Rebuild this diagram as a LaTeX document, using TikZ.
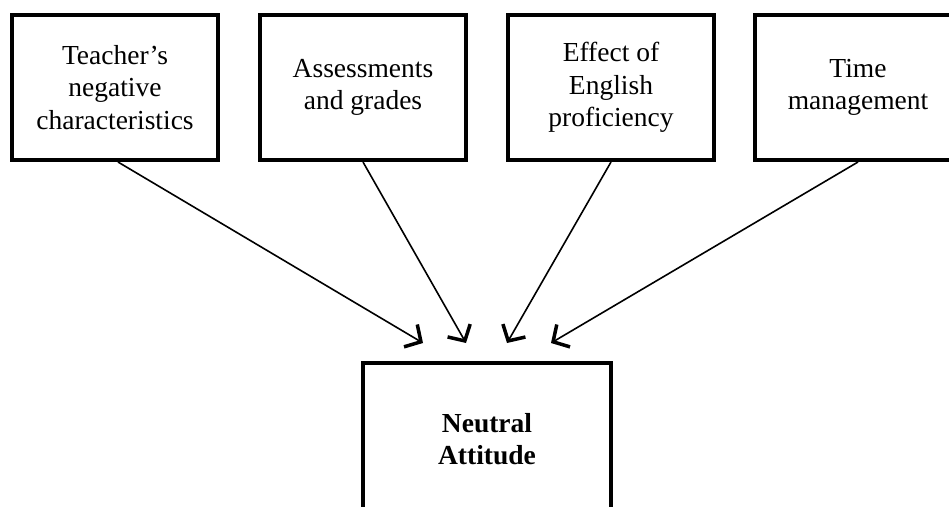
\documentclass[tikz,border=0pt]{standalone}
\usepackage{fontspec}
\setmainfont{Liberation Serif}
\usetikzlibrary{arrows.meta}

\begin{document}
\begin{tikzpicture}[x=1pt,y=-1pt,
  factor/.style={rectangle,draw,line width=4pt,minimum width=206pt,minimum height=145pt,align=center,font=\fontsize{27.5}{32.5}\selectfont},
  attitude/.style={factor,minimum width=248pt,minimum height=152pt,font=\fontsize{27.5}{32.5}\selectfont\bfseries},
  arr/.style={-{Straight Barb[length=12pt,width=26pt,line width=3.5pt]},line width=1.6pt}]
\clip (0,0) rectangle (949,506);
\node [factor] (teacher) at (115,87.5) {Teacher’s\\negative\\characteristics};
\node [factor] (assess) at (363,87.5) {Assessments\\and grades};
\node [factor] (english) at (611,87.5) {Effect of\\English\\proficiency};
\node [factor] (time) at (858,87.5) {Time\\management};
\node [attitude] (neutral) at (487,439) {Neutral\\Attitude};

\coordinate (t1) at (423,343);
\coordinate (t2) at (466,343);
\coordinate (t3) at (507,343);
\coordinate (t4) at (551,343);

\draw [arr] ([xshift=3pt]teacher.south) -- (t1);
\draw [arr] (assess.south) -- (t2);
\draw [arr] (english.south) -- (t3);
\draw [arr] (time.south) -- (t4);
\end{tikzpicture}
\end{document}
